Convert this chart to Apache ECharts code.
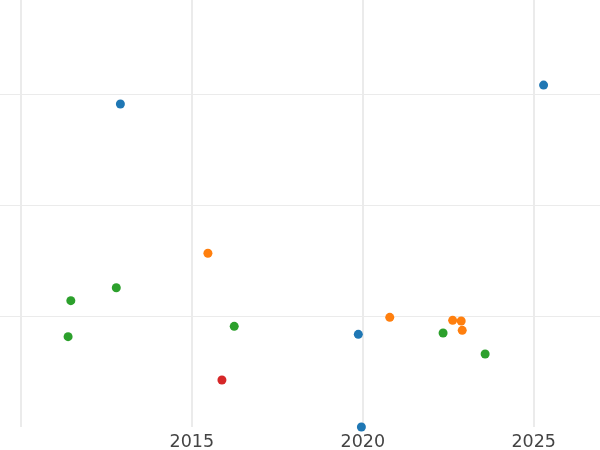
<!DOCTYPE html>
<html>
<head>
<meta charset="utf-8">
<script src="https://cdn.jsdelivr.net/npm/echarts@6/dist/echarts.min.js"></script>
<style>
  html, body { margin: 0; padding: 0; background: #fff; }
  #chart { width: 600px; height: 450px; }
</style>
</head>
<body>
<div id="chart"></div>
<script>
// points per group: [year, value]
const blueData = [[2012.91, 2.91], [2025.29, 3.08], [2019.87, 0.835], [2019.96, 0.0]];
const orangeData = [[2015.47, 1.565], [2020.79, 0.988], [2022.63, 0.961], [2022.88, 0.955], [2022.91, 0.871]];
const greenData = [[2012.79, 1.255], [2011.46, 1.138], [2011.38, 0.814], [2016.24, 0.907], [2022.35, 0.847], [2023.58, 0.658]];
const redData = [[2015.88, 0.423]];
const shownYears = [2015, 2020, 2025];

const chart = echarts.init(document.getElementById('chart'));

function dots(data, color) {
  return {
    type: 'scatter',
    data: data,
    symbolSize: 9,
    itemStyle: { color: color, opacity: 1 }
  };
}

chart.setOption({
  animation: false,
  grid: {
    left: -150,
    right: -104.6,
    top: -17,
    bottom: 23,
    containLabel: false,
    outerBoundsMode: 'none'
  },
  xAxis: {
    type: 'value',
    min: 2005,
    max: 2030,
    interval: 5,
    axisLine: { show: false },
    axisTick: { show: false },
    axisLabel: {
      margin: 6,
      fontSize: 17.5,
      color: '#444',
      fontFamily: 'DejaVu Sans',
      formatter: function (v) { return shownYears.indexOf(v) >= 0 ? String(v) : ''; }
    },
    splitLine: { show: true, lineStyle: { color: '#ebebeb', width: 2 } }
  },
  yAxis: {
    type: 'value',
    min: 0,
    max: 4,
    interval: 1,
    axisLine: { show: false },
    axisTick: { show: false },
    axisLabel: { show: false },
    splitLine: { show: true, showMinLine: false, lineStyle: { color: '#ebebeb', width: 1 } }
  },
  series: [
    dots(blueData, '#1f77b4'),
    dots(orangeData, '#ff7f0e'),
    dots(greenData, '#2ca02c'),
    dots(redData, '#d62728')
  ]
});
</script>
</body>
</html>
